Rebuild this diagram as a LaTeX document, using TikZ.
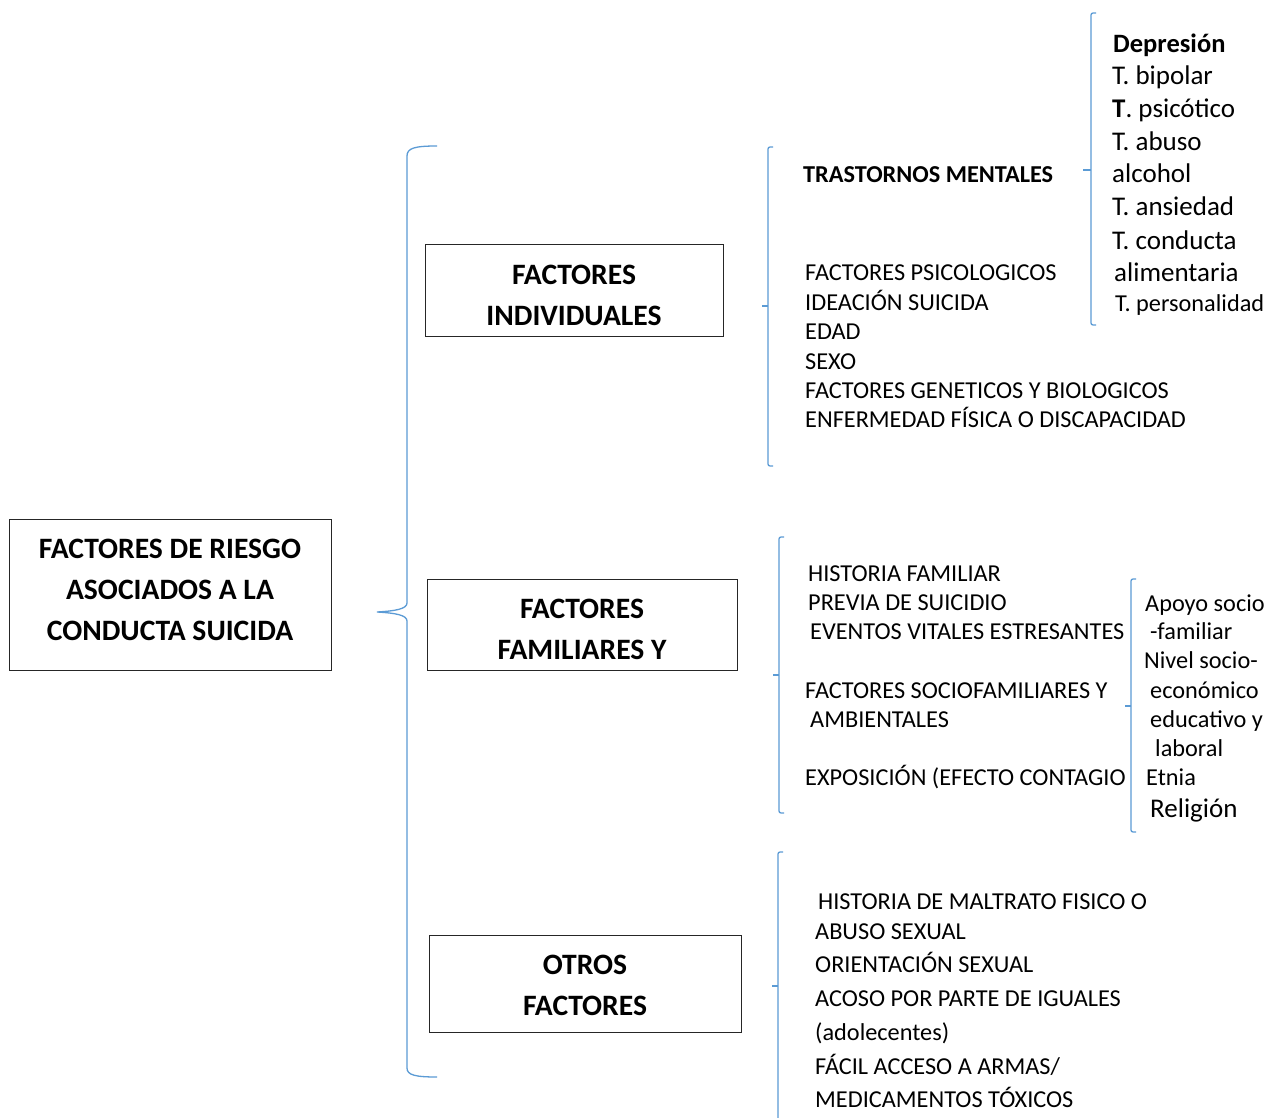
\documentclass[tikz,border=0pt]{standalone}
\usepackage{fontspec}
\setmainfont{Carlito}
\definecolor{brblue}{RGB}{91,155,213}
\newcommand\mybrk[5]{% x, top, mid, bottom, tip length
  \draw[brc,rounded corners=2pt] ({#1+5},#2) -- (#1,#2) -- (#1,#4) -- ({#1+5},#4);
  \draw[brc] (#1,#3) -- ({#1-#5},#3);}
\begin{document}
\begin{tikzpicture}[x=1pt,y=-1pt,
  brc/.style={draw=brblue,line width=1.3pt},
  box/.style={draw=black!85,line width=1pt,inner sep=0},
  boxtxt/.style={font=\fontsize{29.6}{41}\selectfont\bfseries,align=center,inner sep=0},
  sm/.style={font=\fontsize{24.3}{28}\selectfont,anchor=base west,inner sep=0},
  md/.style={font=\fontsize{27}{31}\selectfont,anchor=base west,inner sep=0}]
\useasboundingbox[fill=white] (0,0) rectangle (1269,1118);

% boxes
\node[box,minimum width=322pt,minimum height=151pt] (root) at (170,594.5) {};
\node[boxtxt] (root-t) at (170,590) {FACTORES DE RIESGO\\ASOCIADOS A LA\\CONDUCTA SUICIDA};
\node[box,minimum width=298pt,minimum height=91pt] (ind) at (574,290.5) {};
\node[boxtxt] (ind-t) at (574,295.5) {FACTORES\\INDIVIDUALES};
\node[box,minimum width=310pt,minimum height=91pt] (fam) at (582,624.5) {};
\node[boxtxt] (fam-t) at (582,629.5) {FACTORES\\FAMILIARES Y};
\node[box,minimum width=312pt,minimum height=97pt] (otr) at (585,983.5) {};
\node[boxtxt] (otr-t) at (585,985.5) {OTROS\\FACTORES};

% main brace
\draw[brc] (437,146) .. controls (415,146) and (407,148) .. (407,156) -- (407,603)
  .. controls (407,609) and (395,611) .. (377,612)
  .. controls (395,613) and (407,615) .. (407,621) -- (407,1068)
  .. controls (407,1075) and (415,1077) .. (437,1077);

% secondary brackets
\mybrk{768}{147}{306}{466}{6}
\mybrk{1091}{13}{170}{325}{8}
\mybrk{779}{537}{675}{813}{6}
\mybrk{1131}{579}{706}{832}{6}
\draw[brc,rounded corners=2pt] (783,852) -- (778,852) -- (778,1125);
\draw[brc] (778,986) -- (772,986);

% individual factors
\node[sm,font=\fontsize{24.3}{28}\selectfont\bfseries] (tm) at (803,183) {TRASTORNOS MENTALES};
\node[sm] (i1) at (805,280) {FACTORES PSICOLOGICOS};
\node[sm] (i2) at (805,310) {IDEACIÓN SUICIDA};
\node[sm] (i3) at (805,339) {EDAD};
\node[sm] (i4) at (805,369) {SEXO};
\node[sm] (i5) at (805,398) {FACTORES GENETICOS Y BIOLOGICOS};
\node[sm] (i6) at (805,427) {ENFERMEDAD FÍSICA O DISCAPACIDAD};

% mental disorders
\node[md,font=\fontsize{26.5}{31}\selectfont\bfseries] (d1) at (1113,53) {Depresión};
\node[md] (d2) at (1112,85) {T. bipolar};
\node[md] (d3) at (1112,118) {\textbf{T}. psicótico};
\node[md] (d4) at (1112,151) {T. abuso};
\node[md] (d5) at (1112,183) {alcohol};
\node[md] (d6) at (1112,216) {T. ansiedad};
\node[md] (d7) at (1112,249) {T. conducta};
\node[md] (d8) at (1114,281) {alimentaria};
\node[sm] (d9) at (1115,311) {T. personalidad};

% family factors
\node[sm] (f1) at (808,581) {HISTORIA FAMILIAR};
\node[sm] (f2) at (808,610) {PREVIA DE SUICIDIO};
\node[sm] (f3) at (810,639) {EVENTOS VITALES ESTRESANTES};
\node[sm] (f4) at (805,698) {FACTORES SOCIOFAMILIARES Y};
\node[sm] (f5) at (810,727) {AMBIENTALES};
\node[sm] (f6) at (805,785) {EXPOSICIÓN (EFECTO CONTAGIO};

% socio
\node[sm] (s1) at (1145,611) {Apoyo socio};
\node[sm] (s2) at (1150,639) {-familiar};
\node[sm] (s3) at (1144,668) {Nivel socio-};
\node[sm] (s4) at (1150,698) {económico};
\node[sm] (s5) at (1150,727) {educativo y};
\node[sm] (s6) at (1155,756) {laboral};
\node[sm] (s7) at (1146,785) {Etnia};
\node[md] (s8) at (1150,817) {Religión};

% other factors
\node[sm] (o1) at (818,909) {HISTORIA DE MALTRATO FISICO O};
\node[sm] (o2) at (815,939) {ABUSO SEXUAL};
\node[sm] (o3) at (815,972) {ORIENTACIÓN SEXUAL};
\node[sm] (o4) at (815,1006) {ACOSO POR PARTE DE IGUALES};
\node[sm] (o5) at (815,1040) {(adolecentes)};
\node[sm] (o6) at (815,1074) {FÁCIL ACCESO A ARMAS/};
\node[sm] (o7) at (815,1107) {MEDICAMENTOS TÓXICOS};
\end{tikzpicture}
\end{document}
